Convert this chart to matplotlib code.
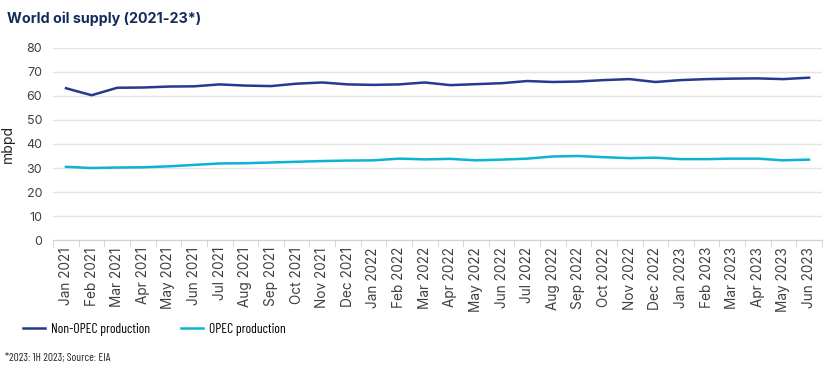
import numpy as np
import matplotlib
matplotlib.use('Agg')
import matplotlib.pyplot as plt

plt.rcParams['font.family'] = ['Inter', 'DejaVu Sans']
narrow = ['Barlow Condensed', 'DejaVu Sans']

months = ['Jan', 'Feb', 'Mar', 'Apr', 'May', 'Jun', 'Jul', 'Aug', 'Sep', 'Oct', 'Nov', 'Dec']
labels = [f'{m} {y}' for y in (2021, 2022) for m in months] + [f'{m} 2023' for m in months[:6]]

non_opec = [63.2, 60.3, 63.4, 63.5, 63.9, 64.0, 64.8, 64.3, 64.1, 65.1, 65.6, 64.8,
            64.6, 64.8, 65.6, 64.5, 64.9, 65.3, 66.2, 65.8, 66.0, 66.6, 67.0, 65.8,
            66.6, 67.0, 67.2, 67.3, 67.0, 67.6]
opec = [30.5, 30.0, 30.2, 30.3, 30.7, 31.3, 31.9, 32.0, 32.3, 32.6, 32.9, 33.1,
        33.2, 33.9, 33.6, 33.8, 33.2, 33.5, 33.9, 34.8, 35.0, 34.5, 34.1, 34.3,
        33.7, 33.7, 33.9, 33.9, 33.2, 33.5]

c_non = '#24398f'
c_opec = '#0ab4d2'

fig = plt.figure(figsize=(8.31, 3.74), dpi=100)
ax = fig.add_axes([0.064, 0.358, 0.925, 0.514])

x = np.arange(len(labels))
ax.plot(x, non_opec, color=c_non, lw=1.8, label='Non-OPEC production')
ax.plot(x, opec, color=c_opec, lw=1.8, label='OPEC production')

ax.set_xlim(-0.5, len(labels) - 0.5)
ax.set_ylim(0, 80)
ax.set_yticks(range(0, 81, 10))
ax.grid(axis='y', color='#e3e3e3', lw=1)
ax.set_axisbelow(True)
for s in ['top', 'right', 'left']:
    ax.spines[s].set_visible(False)
ax.spines['bottom'].set_color('#d0d0d0')
ax.tick_params(axis='y', length=0, labelsize=9, labelcolor='#404040', pad=8)

ax.set_xticks(x)
ax.set_xticklabels(labels, rotation=90, fontsize=9.8, color='#404040')
ax.tick_params(axis='x', length=0, pad=5)
ax.set_xticks(np.arange(-0.5, len(labels), 1), minor=True)
ax.tick_params(axis='x', which='minor', length=5, color='#d0d0d0')

ax.set_ylabel('mbpd', fontsize=10, color='#222222', labelpad=8)

fig.text(0.008, 0.938, 'World oil supply (2021-23*)', fontsize=10.3, fontweight='bold',
         color='#142c5a')

ax.legend(loc='upper left', bbox_to_anchor=(-0.055, -0.368), ncol=2, frameon=False,
          prop={'family': narrow, 'size': 9.8}, handlelength=1.6, handletextpad=0.45,
          columnspacing=2.3)

fig.text(0.006, 0.035, '*2023: 1H 2023; Source: EIA', fontsize=8.2, color='#222222',
         family=narrow)

fig.savefig('out.png', dpi=100)
